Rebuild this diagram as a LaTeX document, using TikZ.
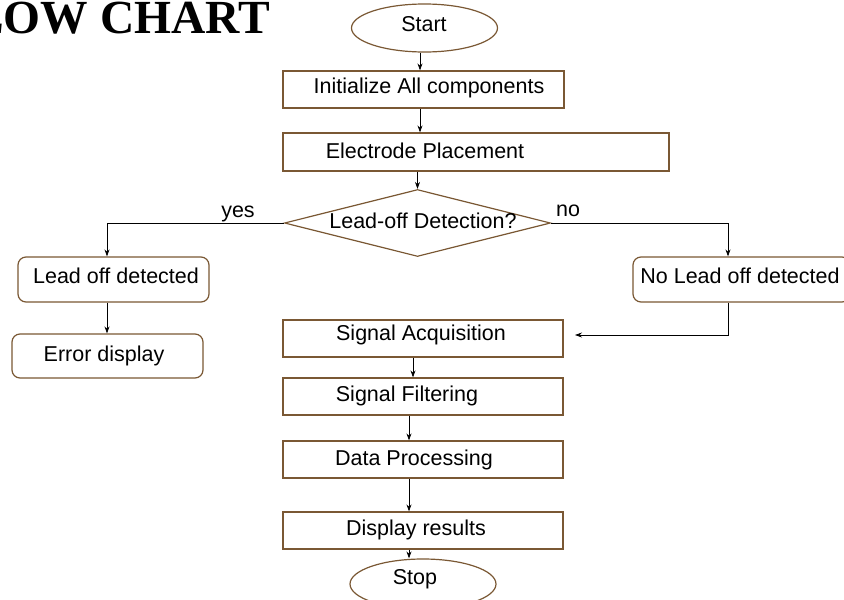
\documentclass[tikz,border=0pt]{standalone}
\usepackage{fontspec}
\setmainfont{Liberation Sans}
\newfontfamily\titlefont{Liberation Serif}
\usetikzlibrary{shapes.geometric,arrows.meta,calc}
\definecolor{edgebrown}{RGB}{122,88,52}
\tikzset{
  procbox/.style={draw=edgebrown, line width=1.2pt, rectangle, minimum height=37pt, inner sep=0pt},
  roundbox/.style={procbox, rounded corners=8pt, minimum width=191pt, minimum height=45pt},
  terminal/.style={draw=edgebrown, line width=1.2pt, ellipse, minimum width=146pt, minimum height=48pt, inner sep=0pt},
  decision/.style={draw=edgebrown, line width=1.2pt, diamond, minimum width=266pt, minimum height=67pt, inner sep=0pt},
  arr/.style={draw=black, line width=0.8pt, -{Stealth[length=7pt,width=5pt]}},
  txt/.style={font=\fontsize{21.5}{24}\selectfont, inner sep=0pt},
  sidelabel/.style={font=\fontsize{21.5}{24}\selectfont, inner sep=0pt, anchor=base},
}
\begin{document}
\begin{tikzpicture}[x=1pt, y=-1pt]
\useasboundingbox (0,0) rectangle (844,600);
\clip (0,0) rectangle (844,600);
\fill[white] (0,0) rectangle (844,600);

% heading
\node[font=\titlefont\bfseries\fontsize{47.5}{50}\selectfont, anchor=base west, inner sep=0pt] (title) at (-57,33) {FLOW CHART};

% start / stop terminals
\node[terminal] (start) at (424.5,28) {};
\node[txt] (starttxt) at (424,24) {Start};
\node[terminal, minimum height=50pt] (stop) at (423,584) {};
\node[txt] (stoptxt) at (415,579) {Stop};

% main column of process boxes
\node[procbox, minimum width=281pt] (init) at (423.5,89.5) {};
\node[txt] (inittxt) at (429,88) {Initialize All components};
\node[procbox, minimum width=386pt, minimum height=38pt] (elec) at (476,152) {};
\node[txt] (electxt) at (425,151) {Electrode Placement};

% decision
\node[decision] (dia) at (417.5,223) {};
\node[txt] (diatxt) at (423,221) {Lead-off Detection?};
\node[sidelabel] (yes) at (238,217) {yes};
\node[sidelabel] (no) at (568,216) {no};

% branches
\node[roundbox] (leadoff) at (113.5,279.5) {};
\node[txt] (leadofftxt) at (116,276) {Lead off detected};
\node[roundbox, minimum height=44pt] (error) at (107.5,356) {};
\node[txt] (errortxt) at (104,356) {Error display};
\node[roundbox, minimum width=217pt] (nolead) at (741.5,279.5) {};
\node[txt] (noleadtxt) at (740,276) {No Lead off detected};

% signal chain
\node[procbox, minimum width=280pt] (acq) at (423,338.5) {};
\node[txt] (acqtxt) at (421,335) {Signal Acquisition};
\node[procbox, minimum width=280pt] (filt) at (423,396.5) {};
\node[txt] (filttxt) at (407,396) {Signal Filtering};
\node[procbox, minimum width=280pt] (proc) at (423,459.5) {};
\node[txt] (proctxt) at (414,460) {Data Processing};
\node[procbox, minimum width=280pt] (disp) at (423,530.5) {};
\node[txt] (disptxt) at (416,530) {Display results};

% vertical guide lines for the connectors
\coordinate (xa) at (420,0);
\coordinate (xb) at (413,0);
\coordinate (xc) at (409,0);
\coordinate (xl) at (107,0);
\coordinate (xr) at (728,0);
\coordinate (acqin) at (575,335);

% connectors
\draw[arr] (start.south -| xa) -- (init.north -| xa);
\draw[arr] (init.south -| xa) -- (elec.north -| xa);
\draw[arr] (elec.south -| dia.north) -- (dia.north);
\draw[arr] (dia.west) -| (leadoff.north -| xl);
\draw[arr] (leadoff.south -| xl) -- (error.north -| xl);
\draw[arr] (dia.east) -| (nolead.north -| xr);
\draw[arr] (nolead.south -| xr) |- (acqin);
\draw[arr] (acq.south -| xb) -- (filt.north -| xb);
\draw[arr] (filt.south -| xc) -- (proc.north -| xc);
\draw[arr] (proc.south -| xc) -- (disp.north -| xc);
\draw[arr] (disp.south -| xc) -- (stop.north -| xc);
\end{tikzpicture}
\end{document}
